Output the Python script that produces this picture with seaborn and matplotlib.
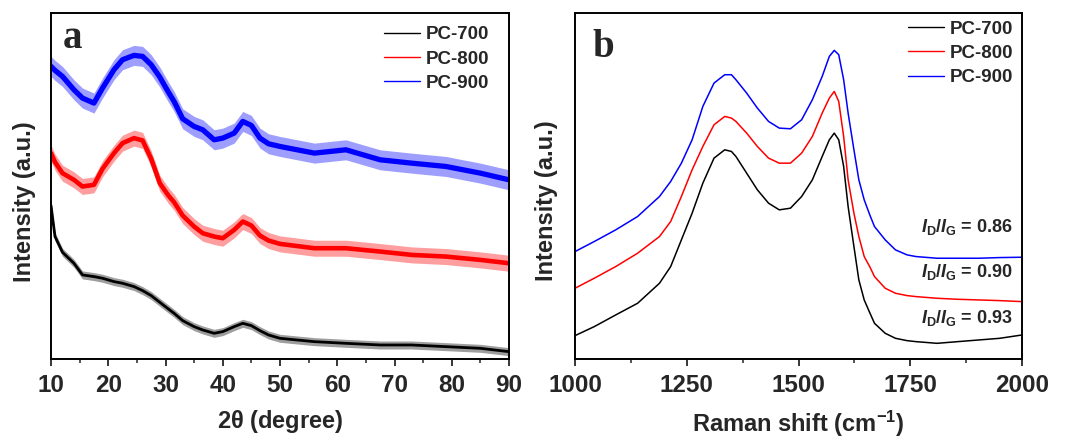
import numpy as np
import pandas as pd
import matplotlib
matplotlib.use("Agg")
import matplotlib.pyplot as plt
import seaborn as sns

# ---------------- data (a): XRD ----------------
xrd_two_theta = [10, 10.7, 12, 14, 15.5, 17.5, 19, 21, 22.5, 24.5, 26, 27.5, 29, 30.5, 31.5,
                 33, 35, 36.5, 38.5, 40, 42, 43.5, 45, 46.5, 48, 50, 56, 61.5, 67.5, 73, 79,
                 85, 90]
xrd_pc900 = [877, 865, 847, 807, 782, 767, 812, 867, 897, 910, 907, 882, 845, 800, 772,
             720, 697, 687, 657, 662, 677, 712, 700, 662, 645, 637, 617, 627, 597, 587, 577,
             557, 537]
xrd_pc800 = [617, 590, 557, 537, 517, 522, 570, 617, 647, 662, 655, 600, 527, 490, 470,
             430, 397, 377, 367, 362, 387, 412, 400, 370, 355, 345, 332, 332, 322, 312, 307,
             297, 287]
xrd_pc700 = [460, 367, 320, 287, 252, 247, 242, 232, 227, 217, 205, 190, 170, 150, 137,
             115, 97, 87, 77, 82, 97, 107, 100, 85, 72, 62, 52, 47, 42, 42, 37, 32, 22]
# visible half-spread of the noisy XRD traces (same intensity units)
xrd_noise = {"PC-700": 12, "PC-800": 24, "PC-900": 30}

# ---------------- data (b): Raman ----------------
raman_shift = [1000, 1043, 1091, 1140, 1189, 1214, 1238, 1262, 1286, 1311, 1335, 1350, 1360,
               1384, 1408, 1433, 1457, 1482, 1507, 1531, 1553, 1569, 1580, 1590, 1601, 1611,
               1624, 1635, 1647, 1660, 1670, 1694, 1717, 1743, 1763, 1810, 1856, 1903, 1950,
               2000]
raman_pc900 = [322, 352, 387, 427, 487, 532, 587, 657, 757, 827, 852, 852, 837, 797, 752,
               712, 692, 690, 717, 777, 847, 907, 925, 912, 837, 737, 627, 537, 477, 430,
               397, 357, 327, 312, 307, 302, 302, 302, 304, 305]
raman_pc800 = [212, 242, 277, 317, 367, 412, 487, 567, 637, 702, 727, 722, 712, 677, 637,
               602, 587, 587, 617, 667, 737, 782, 802, 772, 667, 537, 437, 367, 307, 275,
               247, 212, 197, 190, 187, 182, 179, 177, 175, 172]
raman_pc700 = [70, 97, 132, 167, 227, 277, 357, 437, 527, 602, 627, 622, 607, 557, 507,
               467, 447, 452, 487, 537, 607, 657, 677, 657, 577, 457, 337, 237, 177, 137,
               107, 77, 62, 55, 52, 47, 52, 57, 62, 72]

series_names = ["PC-700", "PC-800", "PC-900"]
series_colors = ["#000000", "#ff0000", "#0000ff"]
ratio_labels = ["0.93", "0.90", "0.86"]
ratio_y = [122, 262, 397]

xrd_ticks = [10, 20, 30, 40, 50, 60, 70, 80, 90]
raman_ticks = [1000, 1250, 1500, 1750, 2000]

# ---------------- style ----------------
sns.set_style("ticks")
plt.rcParams["font.family"] = ["Liberation Sans", "DejaVu Sans"]
plt.rcParams["font.weight"] = "bold"
plt.rcParams["mathtext.fontset"] = "custom"
plt.rcParams["mathtext.rm"] = "Liberation Sans:bold"
plt.rcParams["mathtext.it"] = "Liberation Sans:italic:bold"
plt.rcParams["mathtext.bf"] = "Liberation Sans:bold"

fig = plt.figure(figsize=(10.71, 4.37), dpi=100)
ax1 = fig.add_axes([51 / 1071, 1 - 359 / 437, 458 / 1071, 346 / 437])
ax2 = fig.add_axes([575 / 1071, 1 - 359 / 437, 447 / 1071, 346 / 437])

xrd_df = pd.DataFrame({"x": xrd_two_theta, "PC-700": xrd_pc700,
                       "PC-800": xrd_pc800, "PC-900": xrd_pc900})
raman_df = pd.DataFrame({"x": raman_shift, "PC-700": raman_pc700,
                         "PC-800": raman_pc800, "PC-900": raman_pc900})

xrd_widths = {"PC-700": 2.0, "PC-800": 3.3, "PC-900": 3.8}
for name, col in zip(series_names, series_colors):
    yv = xrd_df[name].to_numpy(dtype=float)
    ax1.fill_between(xrd_df["x"], yv - xrd_noise[name], yv + xrd_noise[name],
                     color=col, alpha=0.38, linewidth=0)
    sns.lineplot(data=xrd_df, x="x", y=name, ax=ax1, color=col, label=name,
                 linewidth=xrd_widths[name])
    sns.lineplot(data=raman_df, x="x", y=name, ax=ax2, color=col, label=name,
                 linewidth=1.1)

legend_anchor = {ax1: (0.956, 0.962), ax2: (0.98, 0.978)}
for ax, ticks, xl, ylc in [(ax1, xrd_ticks, r"2$\mathrm{\theta}$ (degree)", (-0.032, 0.454)),
                           (ax2, raman_ticks, r"Raman shift (cm$^{\mathbf{-1}}$)", (-0.038, 0.457))]:
    ax.set_xlim(ticks[0], ticks[-1])
    ax.set_ylim(0, 1037)
    ax.set_xticks(ticks)
    ax.set_xticks([(a + b) / 2 for a, b in zip(ticks[:-1], ticks[1:])], minor=True)
    ax.set_yticks([])
    ax.tick_params(axis="x", which="major", direction="out", length=5, width=1.3,
                   labelsize=17.5, pad=6)
    ax.tick_params(axis="x", which="minor", direction="out", length=3, width=1.1)
    for lab in ax.get_xticklabels():
        lab.set_fontweight("bold")
    for s in ax.spines.values():
        s.set_visible(True)
        s.set_linewidth(1.4)
        s.set_color("black")
    ax.set_xlabel(xl, fontsize=17, fontweight="bold", labelpad=8)
    ax.set_ylabel("Intensity (a.u.)", fontsize=17, fontweight="bold")
    ax.yaxis.set_label_coords(*ylc)
    leg = ax.legend(loc="upper right", bbox_to_anchor=legend_anchor[ax], frameon=False,
                    fontsize=13.5, handlelength=1.9, labelspacing=0.38, borderpad=0,
                    borderaxespad=0, handletextpad=0.3)
    for h in leg.get_lines():
        h.set_linewidth(1.0)
    for t in leg.get_texts():
        t.set_fontweight("bold")

ax1.text(0.026, 0.899, "a", transform=ax1.transAxes, fontsize=28, fontweight="bold",
         family="Liberation Serif", va="baseline", ha="left")
ax2.text(0.038, 0.873, "b", transform=ax2.transAxes, fontsize=28, fontweight="bold",
         family="Liberation Serif", va="baseline", ha="left")

for lab, yv in zip(ratio_labels, ratio_y):
    ax2.text(1980, yv, r"$I_{\mathrm{D}}$/$I_{\mathrm{G}}$ = " + lab, fontsize=13,
             fontweight="bold", ha="right", va="center")

fig.savefig("out.png", dpi=100)
